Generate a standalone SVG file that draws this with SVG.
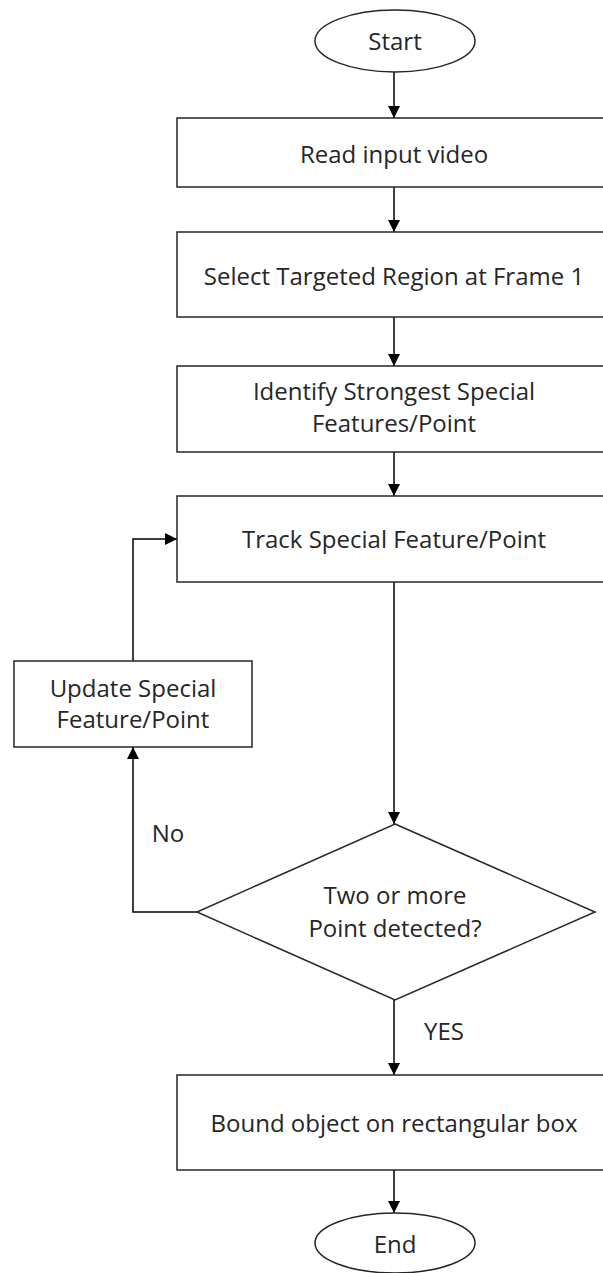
<svg xmlns="http://www.w3.org/2000/svg" width="603" height="1273" viewBox="0 0 603 1273">
  <style>
    .shape { fill: #ffffff; stroke: #262626; stroke-width: 1.5; }
    .label { font-family: "Open Sans", "Liberation Sans", sans-serif; font-size: 24px; fill: #262626; text-anchor: middle; }
    .edge { fill: none; stroke: #000000; stroke-width: 1.5; }
  </style>
  <defs>
    <marker id="arrow" viewBox="0 0 12 12" refX="12" refY="6" markerWidth="12" markerHeight="12" markerUnits="userSpaceOnUse" orient="auto">
      <path d="M0,0 L12,6 L0,12 Z" fill="#000000"/>
    </marker>
  </defs>
  <rect width="603" height="1273" fill="#ffffff"/>

  <g id="connectors">
    <line class="edge" x1="394" y1="72" x2="394" y2="118" marker-end="url(#arrow)"/>
    <line class="edge" x1="394" y1="187" x2="394" y2="232" marker-end="url(#arrow)"/>
    <line class="edge" x1="394" y1="317" x2="394" y2="366" marker-end="url(#arrow)"/>
    <line class="edge" x1="394" y1="452" x2="394" y2="496" marker-end="url(#arrow)"/>
    <line class="edge" x1="394" y1="582" x2="394" y2="824" marker-end="url(#arrow)"/>
    <polyline class="edge" points="197,912 133,912 133,747" marker-end="url(#arrow)"/>
    <polyline class="edge" points="133,661 133,539 177,539" marker-end="url(#arrow)"/>
    <line class="edge" x1="394" y1="1000" x2="394" y2="1075" marker-end="url(#arrow)"/>
    <line class="edge" x1="394" y1="1170" x2="394" y2="1213" marker-end="url(#arrow)"/>
    <text class="label" x="168" y="842">No</text>
    <text class="label" x="444" y="1040">YES</text>
  </g>

  <g id="start">
    <ellipse class="shape" cx="395" cy="41" rx="80" ry="31"/>
    <text class="label" x="395" y="50">Start</text>
  </g>

  <g id="read-video">
    <rect class="shape" x="177" y="118" width="434" height="69"/>
    <text class="label" x="394" y="163">Read input video</text>
  </g>

  <g id="select-region">
    <rect class="shape" x="177" y="232" width="434" height="85"/>
    <text class="label" x="394" y="285">Select Targeted Region at Frame 1</text>
  </g>

  <g id="identify-features">
    <rect class="shape" x="177" y="366" width="434" height="86"/>
    <text class="label" x="394" y="400">Identify Strongest Special</text>
    <text class="label" x="394" y="432">Features/Point</text>
  </g>

  <g id="track-feature">
    <rect class="shape" x="177" y="496" width="434" height="86"/>
    <text class="label" x="394" y="548">Track Special Feature/Point</text>
  </g>

  <g id="update-feature">
    <rect class="shape" x="14" y="661" width="238" height="86"/>
    <text class="label" x="133" y="697">Update Special</text>
    <text class="label" x="133" y="728">Feature/Point</text>
  </g>

  <g id="decision">
    <polygon class="shape" points="395,824 595,912 395,1000 197,912"/>
    <text class="label" x="395" y="904">Two or more</text>
    <text class="label" x="395" y="937">Point detected?</text>
  </g>

  <g id="bound-object">
    <rect class="shape" x="177" y="1075" width="434" height="95"/>
    <text class="label" x="394" y="1132">Bound object on rectangular box</text>
  </g>

  <g id="end">
    <ellipse class="shape" cx="395" cy="1243" rx="80" ry="30"/>
    <text class="label" x="395" y="1253">End</text>
  </g>
</svg>
